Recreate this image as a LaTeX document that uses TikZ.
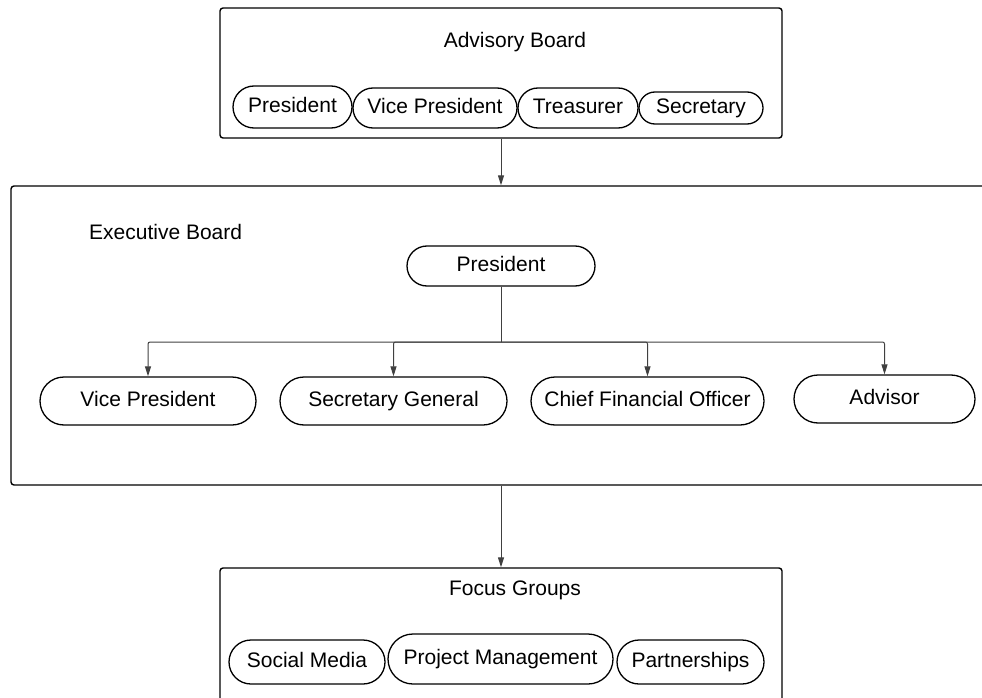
\documentclass[tikz,border=0pt]{standalone}
\usepackage{fontspec}
\setmainfont{Liberation Sans}
\usetikzlibrary{arrows.meta}
\begin{document}
\begin{tikzpicture}[x=1pt,y=-1pt,
  every node/.style={font=\fontsize{21}{25}\selectfont, inner sep=0pt},
  board/.style={draw, line width=1.4pt, rounded corners=3pt},
  pill/.style={draw, line width=1.3pt, text height=15pt, text depth=4pt},
  link/.style={line width=1pt, draw=black!75},
  arrow/.style={link, rounded corners=2pt, -{Triangle[length=10pt,width=6pt]}}]
\useasboundingbox (0,0) rectangle (982,698);
\clip (0,0) rectangle (982,698);

% Advisory board
\node[board, minimum width=562pt, minimum height=130pt] (adv) at (501,73) {};
\node (advt) at (515,42) {Advisory Board};
\node[pill, minimum width=119pt, minimum height=42pt, rounded corners=21pt] (apres) at (292.5,107) {President};
\node[pill, minimum width=164pt, minimum height=40pt, rounded corners=20pt] (avp) at (435,108) {Vice President};
\node[pill, minimum width=120pt, minimum height=40pt, rounded corners=20pt] (atre) at (578,108) {Treasurer};
\node[pill, minimum width=124pt, minimum height=32pt, rounded corners=16pt] (asec) at (701,108) {Secretary};

% Executive board
\node[board, minimum width=980pt, minimum height=299pt] (exec) at (501,335.5) {};
\node[anchor=west] (exect) at (89,232) {Executive Board};
\node[pill, minimum width=188pt, minimum height=40pt, rounded corners=20pt] (epres) at (501,266) {President};
\node[pill, minimum width=216pt, minimum height=48pt, rounded corners=24pt] (evp) at (148,401) {Vice President};
\node[pill, minimum width=227pt, minimum height=48pt, rounded corners=24pt] (esg) at (393.5,401) {Secretary General};
\node[pill, minimum width=233pt, minimum height=48pt, rounded corners=24pt] (ecfo) at (647.5,401) {Chief Financial Officer};
\node[pill, minimum width=181pt, minimum height=48pt, rounded corners=24pt] (eadv) at (884.5,399) {Advisor};

% Focus groups
\node[board, minimum width=562pt, minimum height=142pt] (focus) at (501,639) {};
\node (focust) at (515,590) {Focus Groups};
\node[pill, minimum width=156pt, minimum height=44pt, rounded corners=22pt] (fsm) at (307,662) {Social Media};
\node[pill, minimum width=225pt, minimum height=50pt, rounded corners=25pt] (fpm) at (500.5,659) {Project Management};
\node[pill, minimum width=147pt, minimum height=44pt, rounded corners=22pt] (fpart) at (690.5,662) {Partnerships};

% Connectors
\draw[arrow] (adv.south) -- (exec.north);
\draw[arrow] (exec.south) -- (focus.north);
\coordinate (bus) at (501,342);
\draw[link] (epres.south) -- (bus);
\foreach \n in {evp,esg,ecfo,eadv}
  \draw[arrow] (bus) -| (\n.north);
\end{tikzpicture}
\end{document}
